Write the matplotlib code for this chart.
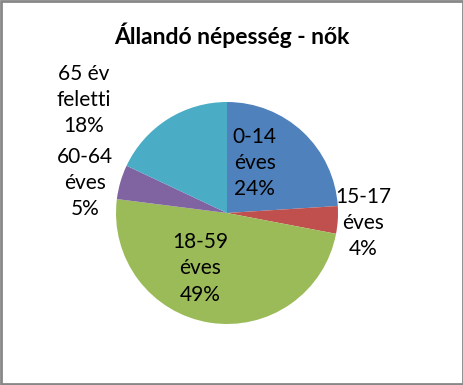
import matplotlib
matplotlib.use('Agg')
from matplotlib import pyplot as plt
from matplotlib.patches import Rectangle

plt.rcParams['font.family'] = ['Lato', 'DejaVu Sans']

labels = ['0-14\néves', '15-17\néves', '18-59\néves', '60-64\néves', '65 év\nfeletti']
values = [24, 4, 49, 5, 18]
colors = ['#4F81BD', '#C0504D', '#9BBB59', '#8064A2', '#4BACC6']

# label centres, in pie radii from the centre (x right, y up)
label_pos = [(0.25, 0.45), (1.23, -0.09), (-0.24, -0.50), (-1.28, 0.27), (-1.29, 1.02)]

W, H = 464, 385
fig = plt.figure(figsize=(W / 100, H / 100), dpi=100)
ax = fig.add_axes((0, 0, 1, 1))

cx, cy, r = 227, H - 213, 111
ax.pie(values, colors=colors, startangle=90, counterclock=False,
       center=(cx, cy), radius=r, frame=True,
       wedgeprops=dict(linewidth=0))
ax.set_xlim(0, W)
ax.set_ylim(0, H)
ax.axis('off')

total = sum(values)
for lab, v, (px, py) in zip(labels, values, label_pos):
    txt = f'{lab}\n{round(100 * v / total)}%'
    ax.text(cx + px * r, cy + py * r, txt, ha='center', va='center',
            fontsize=15, linespacing=1.38, color='black')

fig.text(232 / W, 1 - 35 / H, 'Állandó népesség - nők', ha='center', va='center',
         fontsize=16.5, fontweight='bold')

fig.patches.append(Rectangle((1 / W, 1 / H), (W - 2) / W, (H - 2) / H,
                             transform=fig.transFigure, fill=False,
                             edgecolor='#878787', linewidth=2))

fig.savefig('out.png', dpi=100)
